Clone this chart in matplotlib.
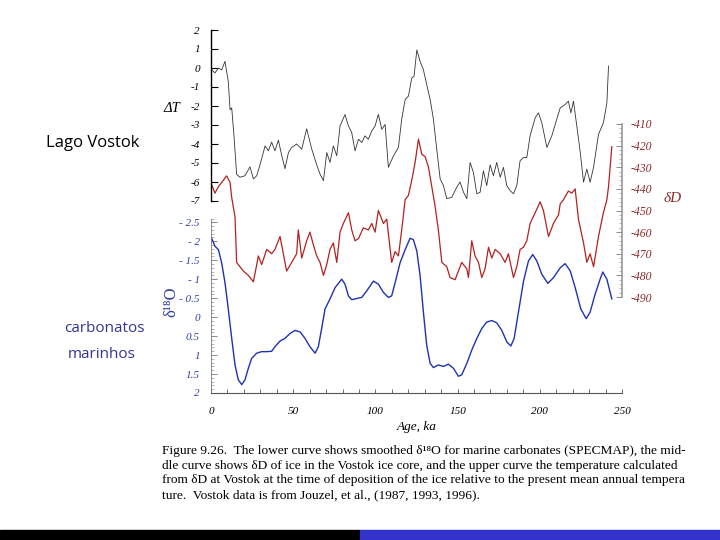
import matplotlib
matplotlib.use("Agg")
import matplotlib.pyplot as plt
from matplotlib.patches import Rectangle
from matplotlib.ticker import MultipleLocator

plt.rcParams["axes.unicode_minus"] = False

# upper curve: temperature difference (Vostok)
dt_age = [0.4, 2.4, 4.5, 6.5, 8.5, 10.5, 11.6, 12.6, 14.0, 15.6, 17.6, 20.7, 23.7, 25.8,
          27.8, 29.8, 32.9, 34.9, 36.9, 38.9, 41.0, 43.0, 45.0, 47.1, 49.1, 52.1, 55.2,
          58.2, 61.3, 64.3, 66.3, 68.4, 70.4, 72.4, 74.4, 76.5, 78.5, 81.5, 83.6, 85.6,
          87.6, 89.7, 91.7, 93.7, 95.7, 97.8, 99.8, 101.8, 103.9, 105.9, 107.9, 111.0,
          114.0, 116.0, 118.1, 120.1, 122.1, 123.5, 125.2, 127.2, 129.2, 131.2, 133.3,
          135.3, 137.3, 139.4, 141.4, 143.4, 146.5, 149.5, 151.5, 153.6, 155.6, 157.6,
          159.6, 161.7, 163.7, 165.7, 167.7, 169.8, 171.8, 173.8, 175.9, 177.9, 179.9,
          181.9, 184.0, 186.0, 188.0, 190.1, 192.1, 194.1, 197.2, 199.2, 201.2, 204.3,
          207.3, 210.3, 212.4, 215.4, 217.4, 218.9, 220.5, 222.5, 224.5, 226.6, 228.6,
          230.6, 232.7, 235.7, 238.7, 240.8, 241.8]
dt_val = [-0.09, -0.26, 0.0, -0.1, 0.35, -0.7, -2.2, -2.1, -3.6, -5.6, -5.75, -5.67, -5.2,
          -5.84, -5.67, -5.1, -4.1, -4.36, -3.9, -4.36, -3.8, -4.6, -5.3, -4.45, -4.18,
          -4.0, -4.27, -3.2, -4.27, -5.1, -5.58, -5.93, -4.45, -4.97, -4.1, -4.62, -3.05,
          -2.45, -3.05, -3.4, -4.36, -3.75, -3.92, -3.57, -3.75, -3.31, -3.05, -2.44,
          -3.23, -2.97, -5.23, -4.62, -4.18, -2.7, -1.66, -1.48, -0.53, -0.44, 0.95, 0.34,
          -0.09, -0.87, -1.66, -2.7, -4.27, -5.84, -6.19, -6.88, -6.8, -6.27, -6.0, -6.54,
          -6.88, -4.97, -5.49, -6.62, -6.54, -5.41, -6.19, -5.1, -5.67, -4.97, -5.75,
          -5.23, -6.19, -6.45, -6.62, -6.19, -4.88, -4.71, -4.71, -3.57, -2.62, -2.36,
          -2.88, -4.18, -3.57, -2.7, -2.1, -1.92, -1.75, -2.36, -1.75, -3.05, -4.36,
          -6.01, -5.32, -6.01, -5.23, -3.49, -2.88, -1.84, 0.1]

# middle curve: deltaD of Vostok ice
dd_age = [0.4, 2.4, 4.5, 6.5, 9.5, 11.6, 12.6, 14.6, 15.6, 17.6, 19.7, 22.7, 25.8, 28.8,
          30.8, 33.9, 36.9, 38.9, 42.0, 44.0, 46.0, 49.1, 52.1, 53.1, 55.2, 58.2, 60.2,
          62.3, 64.3, 66.3, 68.4, 70.4, 72.4, 74.4, 76.5, 78.5, 80.5, 83.6, 85.6, 87.6,
          89.7, 92.7, 95.7, 97.8, 99.8, 101.8, 104.9, 106.9, 109.9, 112.0, 114.0, 116.0,
          118.1, 120.1, 122.1, 124.1, 126.2, 128.2, 130.2, 132.3, 134.3, 136.3, 138.3,
          140.4, 143.4, 145.4, 148.5, 150.5, 152.5, 155.6, 156.6, 158.6, 160.6, 162.7,
          164.7, 166.7, 168.8, 170.8, 172.8, 175.9, 178.9, 180.9, 184.0, 186.0, 188.0,
          190.1, 192.1, 194.1, 197.2, 200.2, 202.2, 205.3, 208.3, 211.4, 212.4, 214.4,
          217.4, 219.5, 221.5, 223.5, 226.6, 228.6, 230.6, 232.7, 235.7, 238.7, 240.8,
          241.8, 243.8]
dd_val = [-438, -442, -439, -437, -434, -437, -444, -453, -474, -476, -478, -480, -483,
          -471, -475, -468, -470, -468, -462, -470, -478, -474, -470, -459, -472, -464,
          -460, -466, -471, -474, -480, -475, -468, -465, -474, -460, -456, -451, -459,
          -464, -463, -458, -459, -456, -460, -450, -456, -454, -474, -469, -471, -459,
          -445, -443, -436, -428, -417, -424, -425, -430, -439, -448, -459, -474, -476,
          -481, -482, -478, -474, -477, -481, -464, -471, -474, -481, -477, -467, -472,
          -468, -470, -474, -470, -481, -476, -468, -467, -464, -456, -451, -446, -450,
          -462, -456, -452, -447, -445, -441, -442, -440, -454, -465, -474, -470, -476,
          -462, -451, -445, -439, -420.5]

# lower curve: smoothed d18O of marine carbonates (SPECMAP)
do_age = [0.4, 2.4, 4.5, 6.5, 8.5, 10.5, 12.6, 14.6, 16.6, 18.7, 20.7, 22.7, 24.7, 27.8,
          30.8, 33.9, 36.9, 38.9, 42.0, 45.0, 48.1, 51.1, 54.2, 57.2, 60.2, 63.3, 65.3,
          67.3, 69.4, 72.4, 75.5, 79.5, 81.5, 83.6, 85.6, 88.6, 91.7, 94.7, 98.8, 101.8,
          104.9, 107.9, 109.9, 112.0, 115.0, 118.1, 121.1, 123.1, 125.2, 127.2, 129.2,
          131.2, 133.3, 135.3, 138.3, 141.4, 144.4, 147.5, 150.5, 152.5, 155.6, 158.6,
          161.7, 164.7, 167.7, 170.8, 173.8, 176.9, 179.9, 182.4, 184.4, 187.0, 190.1,
          193.1, 195.7, 198.2, 201.2, 204.9, 208.3, 212.4, 215.4, 218.5, 221.5, 224.9,
          228.2, 230.6, 233.7, 236.7, 238.3, 240.8, 243.8]
do_val = [-2.08, -1.87, -1.78, -1.43, -0.91, -0.22, 0.56, 1.26, 1.65, 1.78, 1.65, 1.35,
          1.09, 0.95, 0.91, 0.91, 0.9, 0.78, 0.63, 0.56, 0.43, 0.35, 0.39, 0.56, 0.78,
          0.95, 0.78, 0.30, -0.22, -0.48, -0.78, -1.0, -0.87, -0.56, -0.46, -0.49, -0.52,
          -0.69, -0.95, -0.87, -0.65, -0.52, -0.56, -0.91, -1.43, -1.78, -2.08, -2.04,
          -1.74, -1.09, -0.13, 0.74, 1.22, 1.33, 1.26, 1.3, 1.24, 1.35, 1.56, 1.52, 1.22,
          0.87, 0.56, 0.30, 0.13, 0.09, 0.15, 0.35, 0.65, 0.76, 0.56, -0.13, -0.95, -1.48,
          -1.65, -1.48, -1.13, -0.89, -1.04, -1.30, -1.41, -1.22, -0.78, -0.22, 0.04,
          -0.13, -0.61, -1.0, -1.19, -1.0, -0.48]

x_ticks = [0, 50, 100, 150, 200, 250]
dt_ticks = [2, 1, 0, -1, -2, -3, -4, -5, -6, -7]
do_ticks = [-2.5, -2, -1.5, -1, -0.5, 0, 0.5, 1, 1.5, 2]
dd_ticks = [-410, -420, -430, -440, -450, -460, -470, -480, -490]

W, H = 720, 540
serif = ["Liberation Serif", "DejaVu Serif"]
blue_lab = "#3040a0"
red_lab = "#8a2a2a"


def box(x0, y0, x1, y1):
    # pixel box (top-left origin) -> figure fraction rect
    return [x0 / W, 1 - y1 / H, (x1 - x0) / W, (y1 - y0) / H]


def tick_font(ax, color, size=8):
    for lab in ax.get_xticklabels() + ax.get_yticklabels():
        lab.set_fontfamily(serif)
        lab.set_fontstyle("italic")
        lab.set_fontsize(size)
        lab.set_color(color)


fig = plt.figure(figsize=(7.2, 5.4), dpi=100)

# lower axis with the age scale
ax_o = fig.add_axes(box(211, 218.5, 622, 393))
ax_o.plot(do_age, do_val, color="#1f33b0", lw=1.0)
ax_o.set_xlim(0, 250)
ax_o.set_ylim(1.945, -2.6)
ax_o.set_xticks(x_ticks)
ax_o.xaxis.set_minor_locator(MultipleLocator(10))
ax_o.set_yticks(do_ticks)
ax_o.set_yticklabels([("%g" % v).replace("-", "- ") if v < 0 else "%g" % v for v in do_ticks])
ax_o.yaxis.set_minor_locator(MultipleLocator(0.1))
for s in ["top", "right"]:
    ax_o.spines[s].set_visible(False)
ax_o.spines["left"].set_color("#777777")
ax_o.spines["bottom"].set_color("#555555")
ax_o.spines["left"].set_linewidth(0.6)
ax_o.spines["bottom"].set_linewidth(0.8)
ax_o.tick_params(axis="y", which="major", direction="in", length=4, width=0.6, pad=8, colors="#777777")
ax_o.tick_params(axis="y", which="minor", direction="in", length=2, width=0.5, colors="#999999")
ax_o.tick_params(axis="x", which="both", direction="in", length=3, width=0.6, pad=10, colors="#555555")
ax_o.patch.set_alpha(0)
tick_font(ax_o, blue_lab)
for lab in ax_o.get_xticklabels():
    lab.set_color("black")
ax_o.set_xlabel("Age, ka", fontfamily=serif, fontstyle="italic", fontsize=9.5, labelpad=4)

# middle axis, deltaD on the right
ax_d = fig.add_axes(box(211, 124, 622, 297))
ax_d.plot(dd_age, dd_val, color="#b22222", lw=0.9)
ax_d.set_xlim(0, 250)
ax_d.set_ylim(-490, -410)
ax_d.set_yticks(dd_ticks)
ax_d.yaxis.set_minor_locator(MultipleLocator(2))
ax_d.yaxis.tick_right()
ax_d.set_xticks([])
for s in ["top", "left", "bottom"]:
    ax_d.spines[s].set_visible(False)
ax_d.spines["right"].set_color("#999999")
ax_d.spines["right"].set_linewidth(1.2)
ax_d.tick_params(axis="y", which="major", direction="in", length=4, width=0.6, pad=6, colors="#777777")
ax_d.tick_params(axis="y", which="minor", direction="in", length=2, width=0.5, colors="#999999")
ax_d.patch.set_alpha(0)
tick_font(ax_d, red_lab, size=8.5)

# upper axis, temperature
ax_t = fig.add_axes(box(211, 30, 622, 201))
ax_t.plot(dt_age, dt_val, color="#333333", lw=0.6)
ax_t.set_xlim(0, 250)
ax_t.set_ylim(-7, 2)
ax_t.set_yticks(dt_ticks)
ax_t.set_xticks([])
for s in ["top", "right", "bottom"]:
    ax_t.spines[s].set_visible(False)
ax_t.spines["left"].set_linewidth(1.0)
ax_t.tick_params(axis="y", direction="in", length=5, width=0.8, pad=8)
ax_t.patch.set_alpha(0)
tick_font(ax_t, "black")

# axis titles
fig.text(172 / W, 1 - 108 / H, "ΔT", fontsize=10.5, family=serif, fontstyle="italic",
         ha="center", va="center")
fig.text(171 / W, 1 - 302 / H, "δ¹⁸O", fontsize=12, color=blue_lab, family=serif,
         ha="center", va="center", rotation=90)
fig.text(673 / W, 1 - 198 / H, "δD", fontsize=11, color=red_lab, family=serif,
         fontstyle="italic", ha="center", va="center")

# slide labels
fig.text(93 / W, 1 - 143 / H, "Lago Vostok", fontsize=12, family="Open Sans",
         ha="center", va="center")
fig.text(104 / W, 1 - 329 / H, "carbonatos", fontsize=11, family="Open Sans",
         color="#333399", ha="center", va="center")
fig.text(102 / W, 1 - 354 / H, "marinhos", fontsize=11, family="Open Sans",
         color="#333399", ha="center", va="center")

caption = [
    "Figure 9.26.  The lower curve shows smoothed δ¹⁸O for marine carbonates (SPECMAP), the mid-",
    "dle curve shows δD of ice in the Vostok ice core, and the upper curve the temperature calculated",
    "from δD at Vostok at the time of deposition of the ice relative to the present mean annual tempera",
    "ture.  Vostok data is from Jouzel, et al., (1987, 1993, 1996).",
]
for i, line in enumerate(caption):
    fig.text(162 / W, 1 - (451 + i * 14.7) / H, line, fontsize=9.6, family=serif,
             ha="left", va="center")

# bottom bars of the slide
fig.patches.append(Rectangle((0, 0), 360 / W, 10 / H, transform=fig.transFigure,
                             color="black", zorder=0))
fig.patches.append(Rectangle((360 / W, 0), 360 / W, 10 / H, transform=fig.transFigure,
                             color="#3333cc", zorder=0))

fig.savefig("out.png", dpi=100)
